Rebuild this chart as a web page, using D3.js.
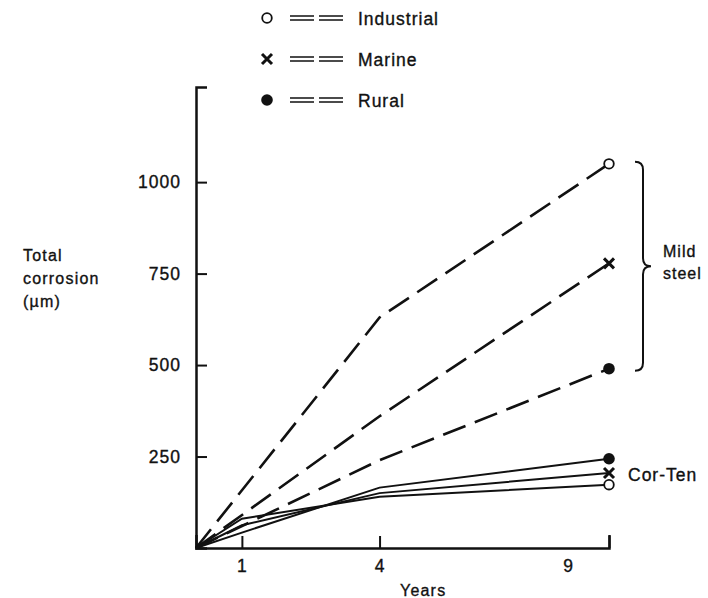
<!DOCTYPE html>
<html>
<head>
<meta charset="utf-8">
<script src="https://cdn.jsdelivr.net/npm/d3@7"></script>
<style>
  body { margin: 0; background: #fff; }
  svg text {
    font-family: "Liberation Sans", Arial, Helvetica, sans-serif;
    fill: #111;
    stroke: #111;
    stroke-width: 0.35px;
  }
</style>
</head>
<body>
<svg id="chart" width="708" height="598"></svg>
<script>
// years at which each steel was measured
const mildYears = [0, 4, 9];
const corTenYears = [0, 1, 4, 9];

// total corrosion (µm), mild steel (dashed)
const mildIndustrial = [0, 630, 1050];
const mildMarine = [0, 360, 778];
const mildRural = [0, 240, 490];

// total corrosion (µm), Cor-Ten (solid)
const corTenIndustrial = [0, 80, 140, 173];
const corTenMarine = [0, 62, 150, 205];
const corTenRural = [0, 42, 165, 244];

const xTicks = [1, 4, 9];
const yTicks = [250, 500, 750, 1000];
const environments = ["Industrial", "Marine", "Rural"];
const yLabelLines = ["Total", "corrosion", "(µm)"];

const svg = d3.select("#chart");
const width = 708;
const height = 598;

const x = d3.scaleLinear().domain([0, 9]).range([196, 609]);
const y = d3.scaleLinear().domain([0, 1260]).range([548, 87]);

const ink = "#111";

// axes
const yAxis = svg
  .append("g")
  .attr("transform", `translate(${x(0)},0)`)
  .call(
    d3.axisLeft(y)
      .tickValues(yTicks)
      .tickSize(-11)
      .tickPadding(15)
      .tickFormat(d3.format("d"))
  );

const xAxis = svg
  .append("g")
  .attr("transform", `translate(0,${y(0)})`)
  .call(
    d3.axisBottom(x)
      .tickValues(xTicks)
      .tickSizeInner(-12)
      .tickSizeOuter(-13)
      .tickPadding(12)
  );

[yAxis, xAxis].forEach((g) => {
  g.select(".domain").attr("stroke", ink).attr("stroke-width", 2.5);
  g.selectAll(".tick line").attr("stroke", ink).attr("stroke-width", 2);
  g.selectAll(".tick text")
    .attr("font-size", "17.5px")
    .attr("letter-spacing", "1px")
    .attr("fill", ink);
});

// the "9" label sits left of its tick in the original drawing
xAxis
  .selectAll(".tick")
  .filter((d) => d === 9)
  .select("text")
  .attr("dx", -41);

svg
  .append("text")
  .attr("x", 400)
  .attr("y", 596)
  .attr("font-size", "16px")
  .attr("letter-spacing", "1.2px")
  .text("Years");

svg
  .append("g")
  .selectAll("text")
  .data(yLabelLines)
  .join("text")
  .attr("x", 23)
  .attr("y", (d, i) => 261 + i * 23)
  .attr("font-size", "16px")
  .attr("letter-spacing", "1.2px")
  .text((d) => d);

// markers
function drawMarker(g, kind, cx, cy) {
  if (kind === "Industrial") {
    g.append("circle")
      .attr("cx", cx)
      .attr("cy", cy)
      .attr("r", 4.8)
      .attr("fill", "#fff")
      .attr("stroke", ink)
      .attr("stroke-width", 1.8);
  } else if (kind === "Marine") {
    const s = 5;
    g.append("path")
      .attr("d", `M${cx - s},${cy - s}L${cx + s},${cy + s}M${cx - s},${cy + s}L${cx + s},${cy - s}`)
      .attr("stroke", ink)
      .attr("stroke-width", 3)
      .attr("fill", "none");
  } else {
    g.append("circle")
      .attr("cx", cx)
      .attr("cy", cy)
      .attr("r", 5.8)
      .attr("fill", ink);
  }
}

const mildSeries = [
  { name: "Industrial", values: mildIndustrial },
  { name: "Marine", values: mildMarine },
  { name: "Rural", values: mildRural },
];
const corTenSeries = [
  { name: "Industrial", values: corTenIndustrial },
  { name: "Marine", values: corTenMarine },
  { name: "Rural", values: corTenRural },
];

const mildLine = d3.line()
  .x((d, i) => x(mildYears[i]))
  .y((d) => y(d));
const corTenLine = d3.line()
  .x((d, i) => x(corTenYears[i]))
  .y((d) => y(d));

const plot = svg.append("g");

plot
  .selectAll(".cor-ten")
  .data(corTenSeries)
  .join("path")
  .attr("class", "cor-ten")
  .attr("d", (s) => corTenLine(s.values))
  .attr("fill", "none")
  .attr("stroke", ink)
  .attr("stroke-width", 2);

plot
  .selectAll(".mild")
  .data(mildSeries)
  .join("path")
  .attr("class", "mild")
  .attr("d", (s) => mildLine(s.values))
  .attr("fill", "none")
  .attr("stroke", ink)
  .attr("stroke-width", 2.6)
  .attr("stroke-dasharray", "24,10");

mildSeries.forEach((s) => {
  const n = s.values.length - 1;
  drawMarker(plot, s.name, x(mildYears[n]), y(s.values[n]));
});
corTenSeries.forEach((s) => {
  const n = s.values.length - 1;
  drawMarker(plot, s.name, x(corTenYears[n]), y(s.values[n]));
});

// brace grouping the mild steel end points
const braceX = x(9) + 34;
const braceTop = y(d3.max(mildSeries, (s) => s.values[s.values.length - 1])) - 2;
const braceBottom = y(d3.min(mildSeries, (s) => s.values[s.values.length - 1])) + 2;
const braceMid = (braceTop + braceBottom) / 2;
svg
  .append("path")
  .attr(
    "d",
    `M${braceX - 8},${braceTop} Q${braceX},${braceTop} ${braceX},${braceTop + 8}` +
      ` L${braceX},${braceMid - 8} Q${braceX},${braceMid} ${braceX + 8},${braceMid}` +
      ` Q${braceX},${braceMid} ${braceX},${braceMid + 8}` +
      ` L${braceX},${braceBottom - 8} Q${braceX},${braceBottom} ${braceX - 8},${braceBottom}`
  )
  .attr("fill", "none")
  .attr("stroke", ink)
  .attr("stroke-width", 2);

svg
  .append("text")
  .attr("x", braceX + 20)
  .attr("y", braceMid - 9)
  .attr("font-size", "16px")
  .attr("letter-spacing", "1px")
  .text("Mild");
svg
  .append("text")
  .attr("x", braceX + 20)
  .attr("y", braceMid + 13)
  .attr("font-size", "16px")
  .attr("letter-spacing", "1px")
  .text("steel");

svg
  .append("text")
  .attr("x", x(9) + 19)
  .attr("y", y(corTenMarine[corTenMarine.length - 1]) + 8)
  .attr("font-size", "17.5px")
  .attr("letter-spacing", "1px")
  .text("Cor-Ten");

// legend
const legend = svg.append("g");
environments.forEach((name, i) => {
  const cy = 18 + i * 41;
  drawMarker(legend, name, 267, cy);
  [-2, 2].forEach((off) => {
    legend
      .append("line")
      .attr("x1", 290)
      .attr("x2", 343)
      .attr("y1", cy + off)
      .attr("y2", cy + off)
      .attr("stroke", ink)
      .attr("stroke-width", 1.5)
      .attr("stroke-dasharray", "24,5");
  });
  legend
    .append("text")
    .attr("x", 358)
    .attr("y", cy + 6.5)
    .attr("font-size", "17.5px")
    .attr("letter-spacing", "1px")
    .text(name);
});
</script>
</body>
</html>
